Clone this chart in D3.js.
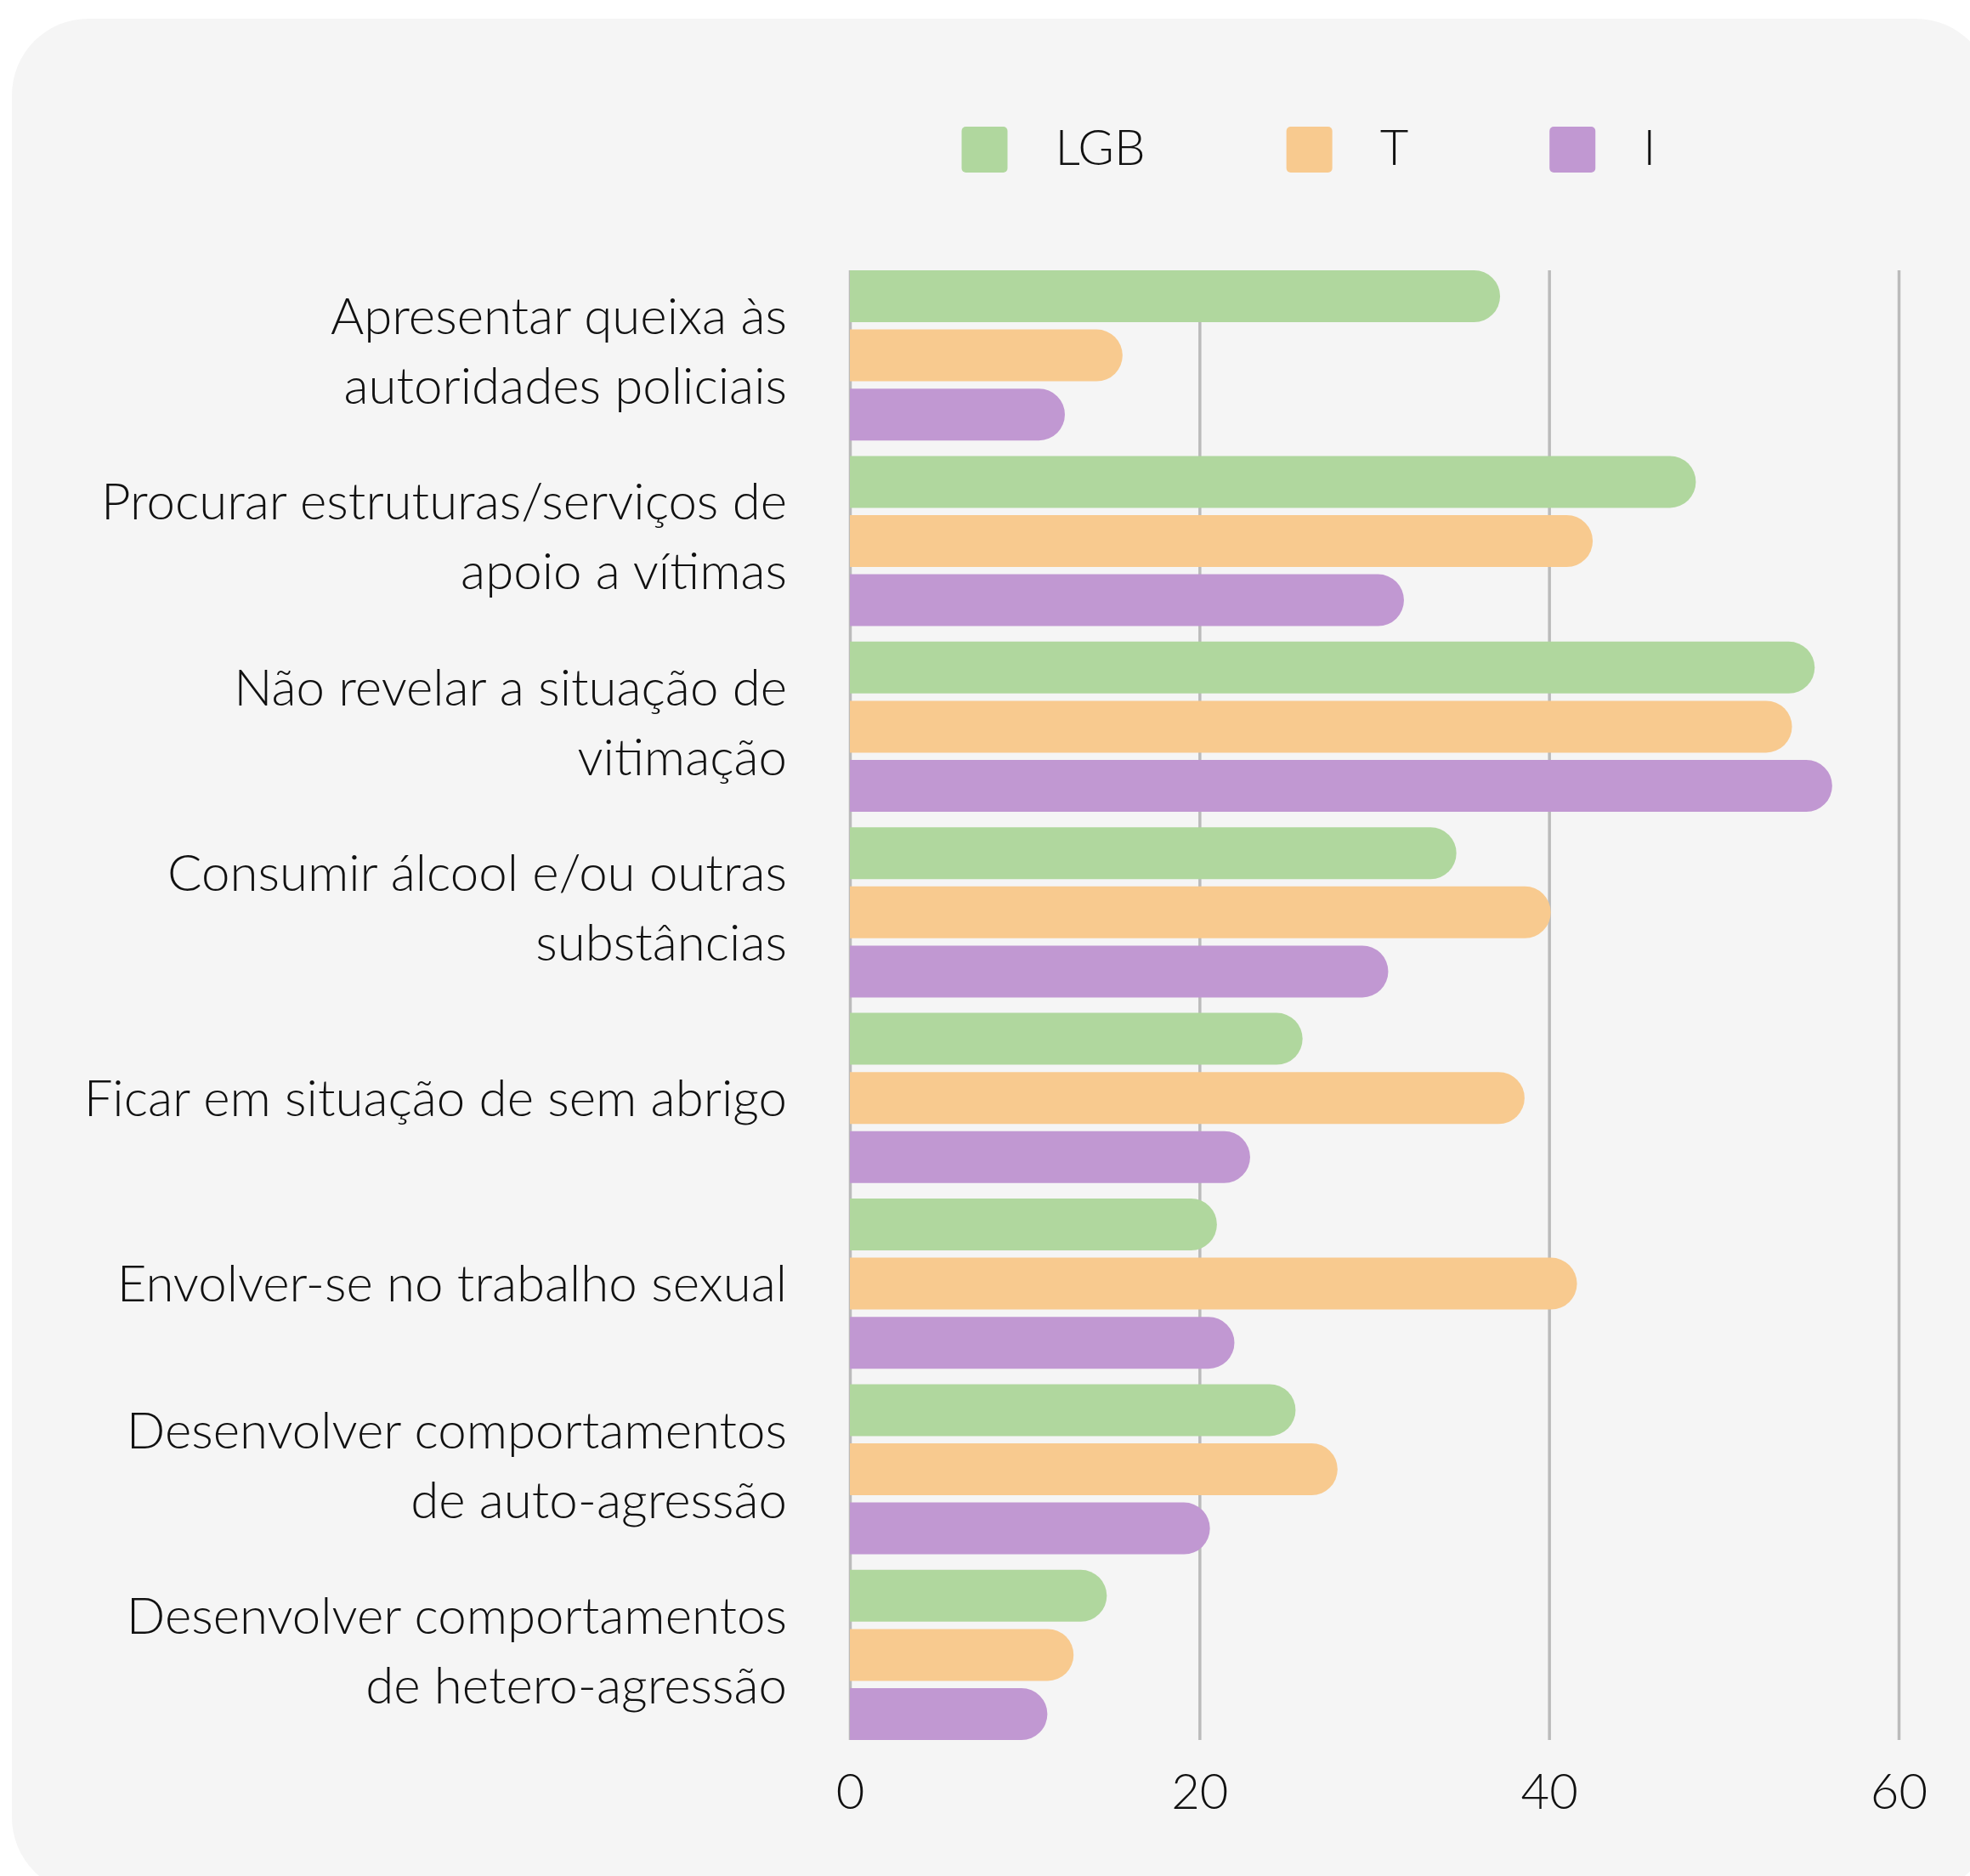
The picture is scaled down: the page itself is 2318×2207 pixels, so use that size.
<!DOCTYPE html>
<html>
<head>
<meta charset="utf-8">
<script src="https://cdn.jsdelivr.net/npm/d3@7"></script>
<style>
  body { margin: 0; background: #ffffff; }
  svg { display: block; font-family: Lato, "Open Sans", sans-serif; }
</style>
</head>
<body>
<svg id="chart"></svg>
<script>
const W = 2318, H = 2207;

// categories (label lines), series and values
const categories = [
  ["Apresentar queixa às", "autoridades policiais"],
  ["Procurar estruturas/serviços de", "apoio a vítimas"],
  ["Não revelar a situação de", "vitimação"],
  ["Consumir álcool e/ou outras", "substâncias"],
  ["Ficar em situação de sem abrigo"],
  ["Envolver-se no trabalho sexual"],
  ["Desenvolver comportamentos", "de auto-agressão"],
  ["Desenvolver comportamentos", "de hetero-agressão"]
];
const series = ["LGB", "T", "I"];
const lgbValues = [37.2, 48.4, 55.2, 34.7, 25.9, 21.0, 25.5, 14.7];
const tValues   = [15.6, 42.5, 53.9, 40.1, 38.6, 41.6, 27.9, 12.8];
const iValues   = [12.3, 31.7, 56.2, 30.8, 22.9, 22.0, 20.6, 11.3];
const ticks = [0, 20, 40, 60];
const colors = ["#b0d79e", "#f8ca8f", "#c198d2"];

const valuesBySeries = [lgbValues, tValues, iValues];
const catKeys = categories.map(c => c.join(" "));

const svg = d3.select("#chart")
  .attr("width", W)
  .attr("height", H);

// panel background
svg.append("rect")
  .attr("x", 14)
  .attr("y", 22)
  .attr("width", 2330)
  .attr("height", 2206)
  .attr("rx", 90)
  .attr("fill", "#f5f5f5");

const x = d3.scaleLinear().domain([0, 60]).range([1000, 2234]);
const y = d3.scaleBand().domain(catKeys).range([318, 2047]).paddingInner(0.0834);
const yInner = d3.scaleBand().domain(series).range([0, y.bandwidth()]).paddingInner(0.1236);

// gridlines
svg.append("g")
  .attr("class", "grid")
  .attr("transform", `translate(0,${y.range()[1]})`)
  .call(d3.axisBottom(x).tickValues(ticks).tickSize(-(y.range()[1] - y.range()[0])).tickFormat(""))
  .call(g => g.select(".domain").remove())
  .call(g => g.selectAll(".tick line").attr("stroke", "#bbbbbb").attr("stroke-width", 3.5));

// axis labels
svg.append("g")
  .attr("class", "xaxis")
  .attr("transform", `translate(0,${y.range()[1]})`)
  .call(d3.axisBottom(x).tickValues(ticks).tickSize(0).tickPadding(40))
  .call(g => g.select(".domain").remove())
  .call(g => g.selectAll(".tick text")
    .attr("font-size", 58)
    .attr("font-family", "Lato, sans-serif")
    .attr("font-weight", 300)
    .attr("fill", "#111"));

// bar with square left end and round right end
const barPath = function(x0, x1, y0, h) {
  const r = h / 2;
  const xe = Math.max(x0, x1 - r);
  return `M${x0},${y0}H${xe}A${r},${r} 0 0 1 ${xe},${y0 + h}H${x0}Z`;
};

const groups = svg.append("g")
  .selectAll("g")
  .data(catKeys)
  .join("g")
  .attr("transform", d => `translate(0,${y(d)})`);

groups.selectAll("path")
  .data((d, ci) => series.map((s, si) => ({ s, si, v: valuesBySeries[si][ci] })))
  .join("path")
  .attr("d", d => barPath(x(0), x(d.v), yInner(d.s), yInner.bandwidth()))
  .attr("fill", d => colors[d.si]);

// category labels
const lineH = 82;
const labels = svg.append("g")
  .selectAll("text")
  .data(categories)
  .join("text")
  .attr("text-anchor", "end")
  .attr("font-size", 60)
  .attr("font-weight", 300)
  .attr("fill", "#111")
  .attr("x", 926)
  .attr("y", (d, i) => y(catKeys[i]) + y.bandwidth() / 2 + 21 - (d.length - 1) * (lineH / 2) - (d.length - 1) * 5);

labels.selectAll("tspan")
  .data(d => d)
  .join("tspan")
  .attr("x", 926)
  .attr("dy", (d, i) => i === 0 ? 0 : lineH)
  .text(d => d);

// legend
const legend = svg.append("g").attr("class", "legend");
let lx = 1131.5;
series.forEach((s, i) => {
  legend.append("rect")
    .attr("x", lx)
    .attr("y", 149)
    .attr("width", 54)
    .attr("height", 54)
    .attr("rx", 5)
    .attr("fill", colors[i]);
  const t = legend.append("text")
    .attr("x", lx + 110)
    .attr("y", 194)
    .attr("font-size", 58)
    .attr("font-weight", 300)
    .attr("fill", "#111")
    .text(s);
  lx = lx + 110 + t.node().getComputedTextLength() + 166;
});
</script>
</body>
</html>
